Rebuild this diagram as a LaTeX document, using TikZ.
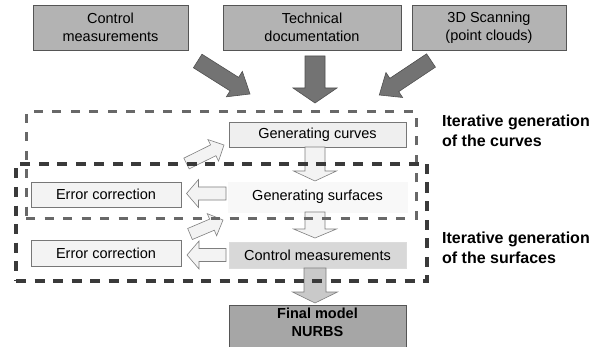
\documentclass[tikz,border=0pt]{standalone}
\usepackage{fontspec}
\setmainfont{Liberation Sans}
\usetikzlibrary{calc}
\definecolor{topfill}{HTML}{B3B3B3}
\definecolor{topdraw}{HTML}{555555}
\definecolor{bigfill}{HTML}{737373}
\definecolor{bigdraw}{HTML}{505050}
\definecolor{hollowfill}{HTML}{F3F3F3}
\definecolor{hollowdraw}{HTML}{7F7F7F}
\definecolor{dashA}{HTML}{686868}
\definecolor{dashB}{HTML}{3A3A3A}
\definecolor{curvefill}{HTML}{EFEFEF}
\definecolor{surffill}{HTML}{F8F8F8}
\definecolor{ctrlfill}{HTML}{D8D8D8}
\definecolor{finalfill}{HTML}{A6A6A6}
\definecolor{lastarrow}{HTML}{C9C9C9}
\newcommand\blockarrow[6]{%
  \coordinate (ba-h) at ($(#3)!#6!(#2)$);
  \path[#1] ($(#2)!#4!90:(#3)$) -- ($(ba-h)!#4!90:(#3)$) -- ($(ba-h)!#5!90:(#3)$)
    -- (#3) -- ($(ba-h)!#5!-90:(#3)$) -- ($(ba-h)!#4!-90:(#3)$) -- ($(#2)!#4!-90:(#3)$) -- cycle;
}
\begin{document}
\begin{tikzpicture}[x=1pt,y=-1pt,
  font=\fontsize{14.5}{17}\selectfont,
  topbox/.style={draw=topdraw, fill=topfill, line width=0.8pt, minimum height=45pt,
    inner sep=0pt, align=center, font=\fontsize{14.5}{18}\selectfont},
  midbox/.style={draw=#1, line width=0.7pt, minimum height=25pt, inner sep=0pt},
  bigarrow/.style={fill=bigfill, draw=bigdraw, line width=0.6pt},
  hollow/.style={fill=hollowfill, draw=hollowdraw, line width=0.6pt},
  dboxA/.style={draw=dashA, line width=3pt, dash pattern=on 9pt off 9.5pt, inner sep=0pt},
  dboxB/.style={draw=dashB, line width=3.2pt, dash pattern=on 10pt off 8.5pt, inner sep=0pt},
  sidelabel/.style={anchor=north west, inner sep=0pt, align=left,
    font=\fontsize{16}{19.5}\selectfont\bfseries}
]
\useasboundingbox (0,0) rectangle (601,347);

% top sources
\node[topbox, minimum width=155pt] (src1) at (110.5,27.5) {Control\\measurements};
\node[topbox, minimum width=178pt] (src2) at (312,27.5) {Technical\\documentation};
\node[topbox, minimum width=154pt] (src3) at (489,27.5) {3D Scanning\\(point clouds)};

% process boxes
\node[midbox=topdraw!80, fill=curvefill, minimum width=177pt] (curves) at (317.5,134.5) {Generating curves};
\node[midbox=surffill, fill=surffill, minimum width=179pt, minimum height=30pt] (surf) at (317.5,197) {Generating surfaces};
\node[midbox=ctrlfill!90, fill=ctrlfill, minimum width=177pt, minimum height=26pt] (ctrl) at (317.5,255) {Control measurements};
\node[midbox=topdraw!80, fill=hollowfill, minimum width=150pt] (err1) at (106,194.5) {Error correction};
\node[midbox=topdraw!80, fill=hollowfill, minimum width=150pt, minimum height=26pt] (err2) at (106,253) {Error correction};
\node[draw=topdraw, line width=0.8pt, fill=finalfill, minimum width=177pt, minimum height=46pt,
  inner sep=0pt] (final) at (317.5,328) {};
\node[align=center, font=\fontsize{14.5}{18}\selectfont\bfseries] (finaltxt) at (317.5,322) {Final model\\NURBS};

% arrow end points
\coordinate (s1) at (197.7,61);  \coordinate (e1) at (250,94);
\coordinate (s2) at (315,56);    \coordinate (e2) at (315,103);
\coordinate (s3) at (431,60.5);  \coordinate (e3) at (379.3,95);
\coordinate (c1) at (315,147);   \coordinate (c2) at (315,181);
\coordinate (f1) at (315,212);   \coordinate (f2) at (315,238);
\coordinate (g1) at (315,268);   \coordinate (g2) at (315,303);
\coordinate (l1s) at (226,193.5); \coordinate (l1e) at (186.5,193.5);
\coordinate (l2s) at (226,255);   \coordinate (l2e) at (187,255);
\coordinate (d1s) at (186.5,163.5); \coordinate (d1e) at (224,145);
\coordinate (d2s) at (190,234);     \coordinate (d2e) at (223,220);

% big input arrows
\blockarrow{bigarrow}{s1}{e1}{8pt}{15pt}{18.5pt}
\blockarrow{bigarrow}{s2}{e2}{10pt}{22pt}{15pt}
\blockarrow{bigarrow}{s3}{e3}{8pt}{15pt}{18pt}

% hollow arrows
\blockarrow{hollow}{c1}{c2}{10pt}{21.5pt}{10pt}
\blockarrow{hollow}{f1}{f2}{10pt}{21.5pt}{9pt}
\blockarrow{hollow, fill=lastarrow}{g1}{g2}{11pt}{22.5pt}{11pt}
\blockarrow{hollow}{l1s}{l1e}{6.5pt}{14pt}{12pt}
\blockarrow{hollow}{l2s}{l2e}{6.5pt}{14pt}{12pt}
\blockarrow{hollow}{d1s}{d1e}{6pt}{12pt}{12pt}
\blockarrow{hollow}{d2s}{d2e}{6pt}{12pt}{12pt}

% iteration frames
\node[dboxA, minimum width=390pt, minimum height=106pt] (loopc) at (221,165) {};
\node[dboxB, minimum width=411pt, minimum height=117pt] (loops) at (221.5,222.5) {};

% side labels
\node[sidelabel] (labc) at (442,115) {Iterative generation\\of the curves};
\node[sidelabel] (labs) at (442,232) {Iterative generation\\of the surfaces};
\end{tikzpicture}
\end{document}
